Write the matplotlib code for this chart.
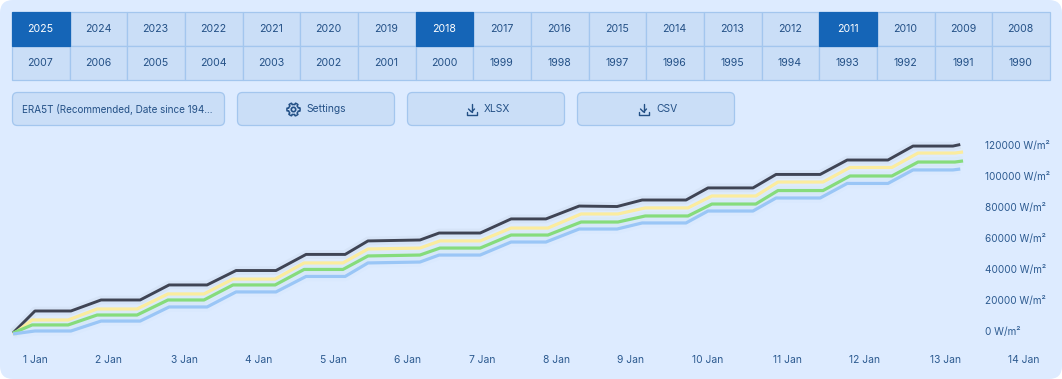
import numpy as np
import matplotlib
matplotlib.use("Agg")
import matplotlib.pyplot as plt
from matplotlib.patches import FancyBboxPatch, Rectangle, Polygon, Circle
from matplotlib.transforms import ScaledTranslation

plt.rcParams["font.family"] = ["Inter", "DejaVu Sans"]

W, H = 1062, 379

PANEL = "#DDEBFF"
CELL = "#CADEF7"
EDGE = "#A3C6EE"
ACTIVE = "#1565B7"
TEXT = "#235086"
TICK = "#2C5A90"

years_top = [str(y) for y in range(2025, 2007, -1)]
years_bottom = [str(y) for y in range(2007, 1989, -1)]
active_years = ["2025", "2018", "2011"]

buttons = ["ERA5T (Recommended, Date since 194...", "Settings", "XLSX", "CSV"]

# hours since the first sample
hours_a = [0, 7.8, 20.6, 31.3, 45.2, 55.5, 69.0, 79.3, 93.5, 104.2, 118.1, 126.2,
           144.7, 151.5, 166.1, 177.1, 189.5, 201.3, 214.8, 223.7, 239.3, 247.1,
           263.1, 271.3, 287.0, 296.6, 311.1, 320.0, 334.2, 336.8]
hours_b = [0, 6.8, 19.6, 29.9, 44.1, 55.1, 67.9, 78.2, 93.2, 103.5, 117.3, 126.2,
           144.7, 151.8, 166.1, 177.1, 190.2, 202.0, 215.1, 224.8, 240.0, 248.5,
           264.1, 272.0, 288.0, 297.6, 312.5, 321.8, 334.9, 337.8]

dark_values = [0, 14200, 14200, 21300, 21300, 31000, 31000, 40300, 40300, 50700,
               50700, 59400, 60000, 64500, 64500, 73600, 73600, 81900, 81600, 85800,
               85800, 93600, 93600, 102300, 102300, 111600, 111600, 120600, 120600, 121600]
yellow_values = [-1000, 8400, 8400, 15500, 15500, 25200, 25200, 34800, 34800, 45200,
                 45200, 54200, 54800, 59400, 59400, 67700, 67700, 76800, 76800, 80700,
                 80700, 88400, 88400, 97400, 97400, 106800, 106800, 116100, 116100, 116800]
green_values = [0, 5200, 5200, 11600, 11600, 21300, 21300, 31000, 31000, 41000,
                41000, 49700, 50300, 54800, 54800, 63200, 63200, 71600, 71600, 75500,
                75500, 83200, 83200, 91900, 91900, 101300, 101300, 110300, 110300, 111000]
blue_values = [-600, 1300, 1300, 7700, 7700, 16800, 16800, 26500, 26500, 36500,
               36500, 45200, 45800, 50300, 50300, 58700, 58700, 67100, 67100, 71000,
               71000, 78700, 78700, 87100, 87100, 96500, 96500, 105200, 105200, 105800]

y_ticks = [0, 20000, 40000, 60000, 80000, 100000, 120000]
x_tick_hours = [7.8, 34.1, 60.8, 87.5, 114.1, 140.4, 166.8, 193.4, 219.7, 247.1,
                275.2, 302.9, 331.4, 359.5]
x_tick_labels = [f"{d} Jan" for d in range(1, 15)]


def gear(ax, cx, cy):
    ang = np.linspace(0, 2 * np.pi, 144, endpoint=False)
    r = np.where(np.cos(6 * ang) > 0, 6.6, 5.0)
    pts = np.c_[cx + r * np.cos(ang), cy + r * np.sin(ang)]
    ax.add_patch(Polygon(pts, closed=True, fill=False, ec=TEXT, lw=1.1, joinstyle="round"))
    ax.add_patch(Circle((cx, cy), 2.2, fill=False, ec=TEXT, lw=1.2))


def download(ax, cx, cy):
    ax.plot([cx, cx], [cy - 5.5, cy + 2.5], color=TEXT, lw=1.0, solid_capstyle="round")
    ax.plot([cx - 3, cx, cx + 3], [cy - 0.5, cy + 2.5, cy - 0.5], color=TEXT, lw=1.0,
            solid_capstyle="round")
    ax.plot([cx - 5, cx - 5, cx + 5, cx + 5], [cy + 2.5, cy + 5, cy + 5, cy + 2.5],
            color=TEXT, lw=1.0, solid_capstyle="round")


fig = plt.figure(figsize=(W / 100, H / 100), dpi=100, facecolor="white")

# page layer, in pixels
ui = fig.add_axes([0, 0, 1, 1])
ui.set_xlim(0, W); ui.set_ylim(H, 0); ui.axis("off")
ui.add_patch(FancyBboxPatch((0, 0), W, H, boxstyle="round,pad=0,rounding_size=13",
                            fc=PANEL, ec="none"))

cell_w = (1050 - 12) / 18
for row, labels in enumerate([years_top, years_bottom]):
    y = 12 + row * 34
    for i, lab in enumerate(labels):
        on = lab in active_years
        ui.add_patch(Rectangle((12 + i * cell_w, y), cell_w, 34, fc=ACTIVE if on else CELL,
                               ec=ACTIVE if on else EDGE, lw=0.9, zorder=3 if on else 2))
        ui.text(12 + (i + 0.5) * cell_w - 0.5, y + 17, lab, color="white" if on else TEXT,
                fontsize=7.6, ha="center", va="center", zorder=4)

for (x0, x1), lab in zip([(12, 225), (237, 395), (407, 565), (577, 735)], buttons):
    ui.add_patch(FancyBboxPatch((x0 + 0.5, 92.5), x1 - x0 - 1, 33,
                                boxstyle="round,pad=0,rounding_size=5",
                                fc=CELL, ec=EDGE, lw=0.9))
ui.text(22, 109.5, buttons[0], color=TEXT, fontsize=7.15, ha="left", va="center")
ui.text(306, 109.5, buttons[1], color=TEXT, fontsize=7.4, ha="left", va="center")
ui.text(484, 109.5, buttons[2], color=TEXT, fontsize=7.4, ha="left", va="center")
ui.text(656, 109.5, buttons[3], color=TEXT, fontsize=7.4, ha="left", va="center")
gear(ui, 293.5, 109.5)
download(ui, 471.5, 109.5)
download(ui, 643.5, 109.5)

# chart layer: left edge is hour 0, 333 px is zero
left, right, top, bottom = 13, 1030, 140, 340
ax = fig.add_axes([left / W, 1 - bottom / H, (right - left) / W, (bottom - top) / H])
ax.patch.set_alpha(0)
ax.set_xlim(0, (right - left) * 24 / 67.5)
ax.set_ylim(-7 * 645.16, 193 * 645.16)
for s in ax.spines.values():
    s.set_visible(False)

series = [(hours_a, dark_values, "#3F4454", 2.1),
          (hours_b, yellow_values, "#FBEC9E", 2.3),
          (hours_b, green_values, "#86DC7C", 2.3),
          (hours_a, blue_values, "#9AC6F6", 2.3)]
for xs, ys, c, lw in series:
    ax.plot(xs, ys, color=c, lw=lw * 3, alpha=0.04, solid_capstyle="butt", clip_on=False)
for xs, ys, c, lw in series:
    ax.plot(xs, ys, color=c, lw=lw, solid_capstyle="butt", clip_on=False)

ax.set_xticks(x_tick_hours, x_tick_labels)
ax.yaxis.tick_right()
ax.set_yticks(y_ticks, [f"{v} W/m²" for v in y_ticks])
ax.tick_params(axis="x", length=0, pad=10.5, labelsize=7.4, labelcolor=TICK)
ax.tick_params(axis="y", length=0, pad=-32.4, labelsize=7.2, labelcolor=TICK)
shift = ScaledTranslation(0, 2 / 100, fig.dpi_scale_trans)
for lab in ax.get_yticklabels():
    lab.set_ha("left")
    lab.set_transform(lab.get_transform() + shift)

fig.savefig("out.png", dpi=100)
